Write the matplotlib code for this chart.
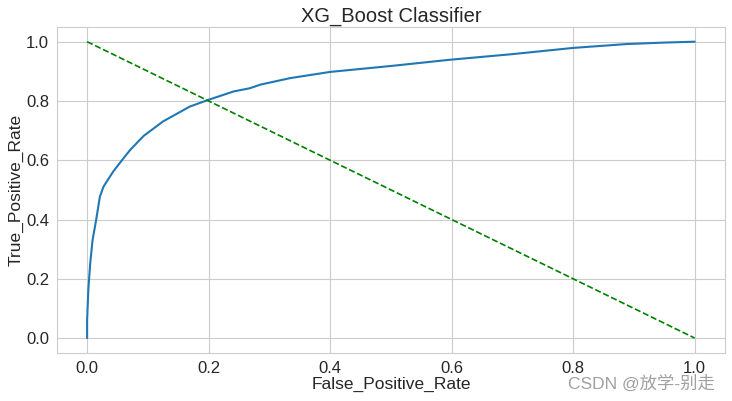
import numpy as np
import matplotlib.pyplot as plt
import seaborn as sns

# ROC curve points
fpr = [0.0, 0.0, 0.002, 0.005, 0.009, 0.015, 0.021, 0.027, 0.043, 0.06, 0.071,
       0.093, 0.125, 0.169, 0.2, 0.241, 0.268, 0.285, 0.334, 0.4, 0.5, 0.597,
       0.7, 0.8, 0.888, 0.95, 1.0]
tpr = [0.0, 0.06, 0.162, 0.25, 0.331, 0.40, 0.477, 0.511, 0.562, 0.607, 0.635,
       0.682, 0.731, 0.781, 0.804, 0.832, 0.843, 0.855, 0.877, 0.898, 0.918, 0.939,
       0.958, 0.979, 0.992, 0.997, 1.0]
diag_x = [0, 1]
diag_y = [1, 0]

sns.set_style('whitegrid')
plt.rcParams['font.family'] = ['Liberation Sans', 'Noto Sans CJK SC']

fig = plt.figure(figsize=(7.32, 4.01), dpi=100)
ax = fig.add_axes([0.0775, 0.12, 0.913, 0.813])
ax.plot(fpr, tpr, color='#1f77b4', lw=1.5)
ax.plot(diag_x, diag_y, 'g--', lw=1.2)
ax.set_title('XG_Boost Classifier', fontsize=14.5, pad=4)
ax.set_xlabel('False_Positive_Rate', fontsize=12.5, labelpad=1)
ax.set_ylabel('True_Positive_Rate', fontsize=12.5, labelpad=2)
ax.tick_params(labelsize=12, colors='#262626', pad=2)
ax.set_xticks([0.0, 0.2, 0.4, 0.6, 0.8, 1.0])
ax.set_yticks([0.0, 0.2, 0.4, 0.6, 0.8, 1.0])

fig.text(0.977, 0.045, 'CSDN @放学-别走', ha='right', va='center',
         fontsize=12.5, color='#a0a0a0')

fig.savefig('out.png', dpi=100)
